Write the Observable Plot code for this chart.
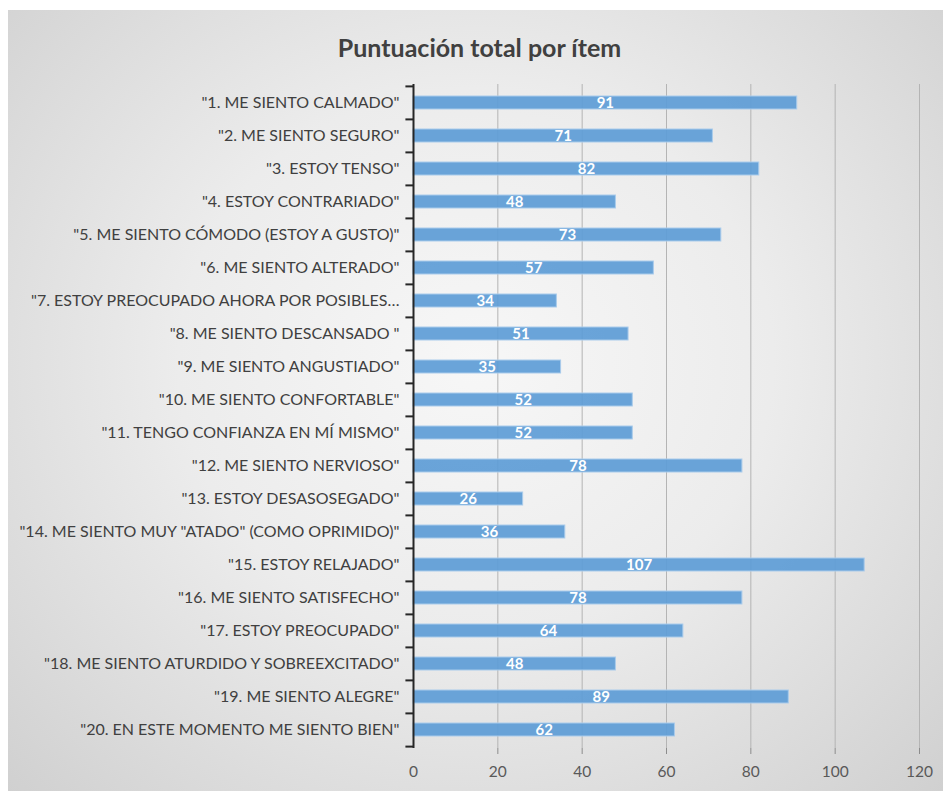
<!DOCTYPE html>
<html>
<head>
<meta charset="utf-8">
<script src="https://cdn.jsdelivr.net/npm/d3@7"></script>
<script src="https://cdn.jsdelivr.net/npm/@observablehq/plot@0.6"></script>
<style>
  html, body { margin: 0; padding: 0; background: #ffffff; }
  #frame {
    position: absolute; left: 8px; top: 10px; width: 935px; height: 781px;
    background: radial-gradient(ellipse at 50% 45%, #f7f7f7 0%, #ececec 45%, #d0d0d0 100%);
    overflow: hidden;
  }
  #title {
    height: 60px; line-height: 74px; text-align: center;
    font-family: Lato, "Open Sans", sans-serif; font-weight: bold; font-size: 25px; color: #404040;
    padding-left: 8px;
  }
  #chart svg { display: block; background: transparent !important; }
</style>
</head>
<body>
<div id="frame">
  <div id="title">Puntuación total por ítem</div>
  <div id="chart"></div>
</div>
<script>
const items = [
  '"1. ME SIENTO CALMADO"',
  '"2. ME SIENTO SEGURO"',
  '"3. ESTOY TENSO"',
  '"4. ESTOY CONTRARIADO"',
  '"5. ME SIENTO CÓMODO (ESTOY A GUSTO)"',
  '"6. ME SIENTO ALTERADO"',
  '"7. ESTOY PREOCUPADO AHORA POR POSIBLES…',
  '"8. ME SIENTO DESCANSADO "',
  '"9. ME SIENTO ANGUSTIADO"',
  '"10. ME SIENTO CONFORTABLE"',
  '"11. TENGO CONFIANZA EN MÍ MISMO"',
  '"12. ME SIENTO NERVIOSO"',
  '"13. ESTOY DESASOSEGADO"',
  '"14. ME SIENTO MUY "ATADO" (COMO OPRIMIDO)"',
  '"15. ESTOY RELAJADO"',
  '"16. ME SIENTO SATISFECHO"',
  '"17. ESTOY PREOCUPADO"',
  '"18. ME SIENTO ATURDIDO Y SOBREEXCITADO"',
  '"19. ME SIENTO ALEGRE"',
  '"20. EN ESTE MOMENTO ME SIENTO BIEN"'
];
const values = [91, 71, 82, 48, 73, 57, 34, 51, 35, 52, 52, 78, 26, 36, 107, 78, 64, 48, 89, 62];
const xTicks = [0, 20, 40, 60, 80, 100, 120];

const data = items.map((item, i) => ({item, value: values[i]}));

const height = 721, marginTop = 14, marginBottom = 43;
const step = (height - marginTop - marginBottom) / items.length;

const plot = Plot.plot({
  width: 935,
  height,
  marginLeft: 405,
  marginRight: 24,
  marginTop,
  marginBottom,
  style: {fontFamily: "Lato, 'Open Sans', sans-serif", fontSize: "16px", color: "#404040", background: "transparent"},
  x: {domain: [0, 120], ticks: xTicks},
  y: {domain: items, paddingInner: 0.6, paddingOuter: 0.3, align: 0.5},
  marks: [
    Plot.gridX(xTicks.slice(1), {stroke: "#b4b4b4", strokeOpacity: 1, strokeWidth: 1}),
    Plot.barX(data, {x: "value", y: "item", fill: "#5f9dd6", fillOpacity: 0.93, stroke: "#a9cbeb", strokeWidth: 1}),
    Plot.text(data, {x: d => d.value / 2, y: "item", text: d => String(d.value), fill: "white", fontWeight: "bold", fontSize: 15}),
    Plot.ruleX([0], {stroke: "#262626", strokeWidth: 2}),
    Plot.ruleY(items, {y: d => d, x1: -1.8, x2: 0, dy: -step / 2, stroke: "#262626", strokeWidth: 2}),
    Plot.ruleY(items.slice(-1), {y: d => d, x1: -1.8, x2: 0, dy: step / 2, stroke: "#262626", strokeWidth: 2}),
    Plot.axisY({tickSize: 0, tickPadding: 14, label: null, fill: "#404040", fontSize: 16}),
    Plot.axisX(xTicks.slice(1), {tickSize: 6, tickPadding: 0, text: null, stroke: "#8c8c8c", label: null}),
    Plot.axisX(xTicks, {tickSize: 0, tickPadding: 17, label: null, fill: "#595959", fontSize: 15.5})
  ]
});
document.getElementById("chart").appendChild(plot);
</script>
</body>
</html>
